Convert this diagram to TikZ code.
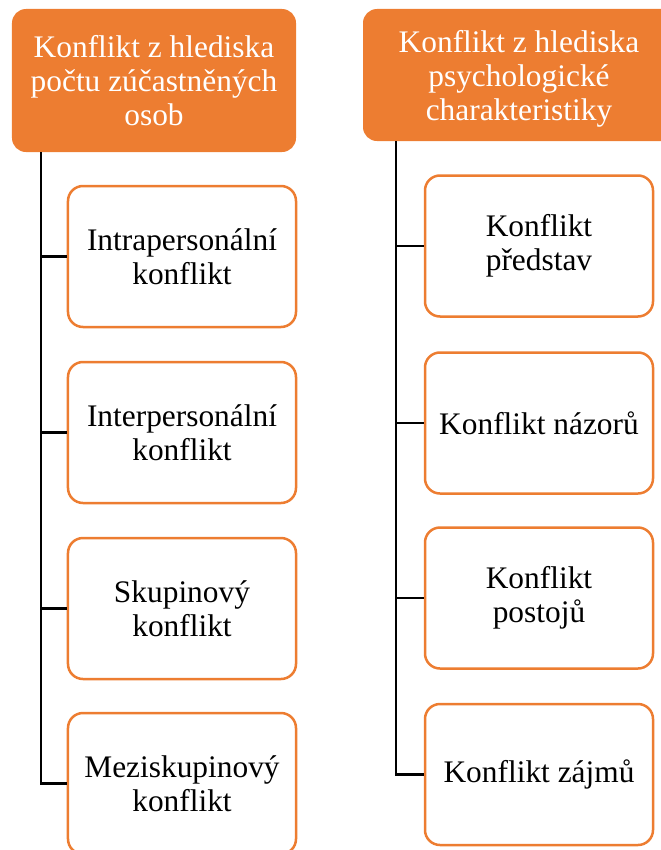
\documentclass[tikz,border=0pt]{standalone}
\usepackage{fontspec}
\setmainfont{Liberation Serif}
\definecolor{orng}{HTML}{ED7D31}
\begin{document}
\begin{tikzpicture}[x=1bp,y=-1bp,
  header/.style={fill=orng, draw=none, rounded corners=14bp, text=white, align=center,
    inner sep=0pt, font=\fontsize{31.5}{34.5}\selectfont},
  htext/.style={text=white, align=center, inner sep=0pt, font=\fontsize{31.5}{34}\selectfont},
  child/.style={draw=orng, line width=2.5bp, fill=white, rounded corners=15bp, align=center,
    minimum width=228bp, minimum height=141bp, inner sep=0pt, text=black,
    font=\fontsize{31.5}{34.5}\selectfont},
  conn/.style={draw=black, line width=2.8bp}]
\useasboundingbox (0,0) rectangle (661,850);
\clip (0,0) rectangle (661,850);
% headers
\node[header, minimum width=284bp, minimum height=143bp] (h1) at (154,80.5)
  {Konflikt z hlediska\\počtu zúčastněných\\osob};
\node[header, minimum width=312bp, minimum height=132bp] (h2) at (519,75) {};
\node[htext] (h2t) at (519,78.5) {Konflikt z hlediska\\psychologické\\charakteristiky};
% left children
\node[child] (a1) at (182,256.5) {Intrapersonální\\konflikt};
\node[child] (a2) at (182,432.5) {Interpersonální\\konflikt};
\node[child] (a3) at (182,608.5) {Skupinový\\konflikt};
\node[child] (a4) at (182,783.5) {Meziskupinový\\konflikt};
% right children
\node[child] (b1) at (539,246) {Konflikt\\představ};
\node[child] (b2) at (539,423) {Konflikt názorů};
\node[child] (b3) at (539,598) {Konflikt\\postojů};
\node[child] (b4) at (539,774.5) {Konflikt zájmů};
% connectors
\coordinate (l0) at (41,152);
\coordinate (r0) at (396,141);
\draw[conn] (l0) |- (a4.west);
\foreach \n in {a1,a2,a3} \draw[conn] (l0 |- \n.west) -- (\n.west);
\draw[conn] (r0) |- (b4.west);
\foreach \n in {b1,b2,b3} \draw[conn] (r0 |- \n.west) -- (\n.west);
\end{tikzpicture}
\end{document}
